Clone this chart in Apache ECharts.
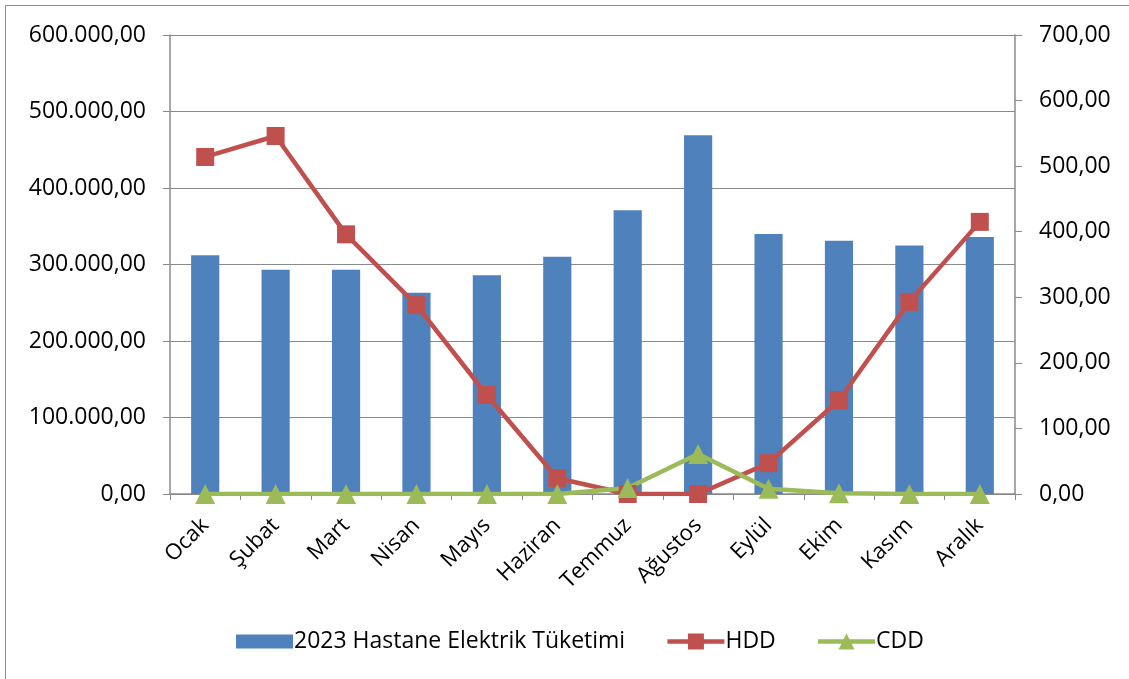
<!DOCTYPE html>
<html>
<head>
<meta charset="utf-8">
<script src="https://cdn.jsdelivr.net/npm/echarts@6/dist/echarts.min.js"></script>
<style>
html,body{margin:0;padding:0;background:#fff;}
#frame{position:absolute;left:5px;top:5px;width:1130px;height:680px;border:1.5px solid #8c8c8c;box-sizing:border-box;}
#c{position:absolute;left:0;top:0;width:1129px;height:679px;}
</style>
</head>
<body>
<div id="frame"></div>
<div id="c"></div>
<script>
const categories = ['Ocak','Şubat','Mart','Nisan','Mayıs','Haziran','Temmuz','Ağustos','Eylül','Ekim','Kasım','Aralık'];
const electricity = [312000, 293000, 293000, 263000, 286000, 310000, 371000, 469000, 340000, 331000, 325000, 336000];
const hdd = [514, 546, 396, 288, 151, 24, 0, 0, 47, 143, 293, 415];
const cdd = [0, 0, 0, 0, 0, 0, 9, 61, 8, 1, 0, 0];
const leftTicks = {min: 0, max: 600000, interval: 100000};
const rightTicks = {min: 0, max: 700, interval: 100};

function fmt(v){
  const parts = Math.round(v).toString().replace(/\B(?=(\d{3})+(?!\d))/g, '.');
  return parts + ',00';
}

const FONT = 'Open Sans';
const axisGray = '#8a8a8a';
const chart = echarts.init(document.getElementById('c'));
chart.setOption({
  animation: false,
  textStyle: {fontFamily: FONT},
  grid: {left: 170, right: 114, top: 35, bottom: 185, containLabel: false},
  legend: {
    bottom: 21, left: 231,
    itemGap: 40, itemWidth: 57, itemHeight: 20,
    lineStyle: {width: 'inherit'},
    textStyle: {fontFamily: FONT, fontSize: 23, color: '#000', padding: [0, 0, 0, -4]},
    data: [
      {name: '2023 Hastane Elektrik Tüketimi', icon: 'path://M0,0 M0,3 L57,3 L57,17 L0,17 Z M57,20'},
      {name: 'HDD'},
      {name: 'CDD'}
    ]
  },
  xAxis: {
    type: 'category', data: categories, boundaryGap: true,
    axisLine: {lineStyle: {color: axisGray, width: 1.5}},
    axisTick: {show: true, length: 6, lineStyle: {color: axisGray}},
    axisLabel: {rotate: 45, fontSize: 22, color: '#000', fontFamily: FONT, margin: 28}
  },
  yAxis: [
    {
      type: 'value', min: leftTicks.min, max: leftTicks.max, interval: leftTicks.interval,
      axisLine: {show: true, lineStyle: {color: axisGray, width: 1.5}},
      axisTick: {show: true, length: 7, lineStyle: {color: axisGray}},
      splitLine: {show: true, lineStyle: {color: axisGray, width: 1.2}},
      axisLabel: {fontSize: 23, color: '#000', fontFamily: FONT, margin: 24, formatter: fmt}
    },
    {
      type: 'value', min: rightTicks.min, max: rightTicks.max, interval: rightTicks.interval,
      position: 'right',
      axisLine: {show: true, lineStyle: {color: axisGray, width: 1.5}},
      axisTick: {show: true, length: 7, lineStyle: {color: axisGray}},
      splitLine: {show: false},
      axisLabel: {fontSize: 23, color: '#000', fontFamily: FONT, margin: 24, formatter: fmt}
    }
  ],
  series: [
    {
      name: '2023 Hastane Elektrik Tüketimi', type: 'bar', data: electricity,
      yAxisIndex: 0, barWidth: '40%',
      itemStyle: {color: '#4F81BD'}
    },
    {
      name: 'HDD', type: 'line', data: hdd, yAxisIndex: 1,
      symbol: 'rect', symbolSize: 18,
      lineStyle: {color: '#C0504D', width: 4.5},
      itemStyle: {color: '#C0504D'}
    },
    {
      name: 'CDD', type: 'line', data: cdd, yAxisIndex: 1,
      symbol: 'triangle', symbolSize: 20,
      lineStyle: {color: '#9BBB59', width: 4.5},
      itemStyle: {color: '#9BBB59'}
    }
  ]
});
</script>
</body>
</html>
